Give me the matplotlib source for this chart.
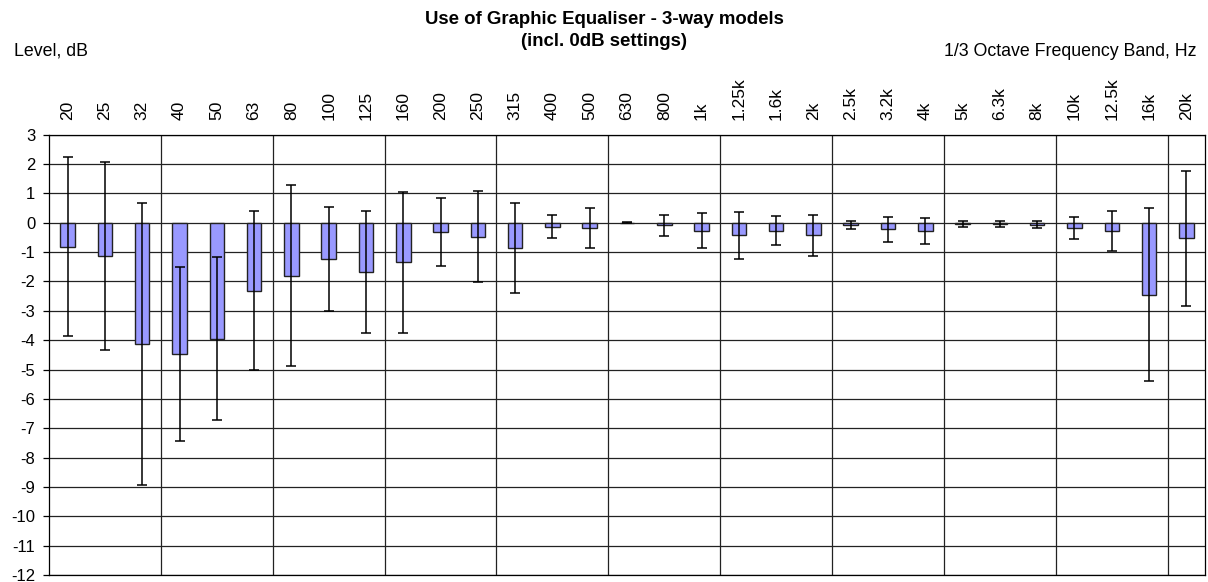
import matplotlib
matplotlib.use("Agg")
import matplotlib.pyplot as plt
import numpy as np

bands = ["20", "25", "32", "40", "50", "63", "80", "100", "125", "160", "200",
         "250", "315", "400", "500", "630", "800", "1k", "1.25k", "1.6k", "2k",
         "2.5k", "3.2k", "4k", "5k", "6.3k", "8k", "10k", "12.5k", "16k", "20k"]
mean_db = [-0.81, -1.14, -4.14, -4.48, -3.95, -2.31, -1.81, -1.24, -1.68, -1.34, -0.32,
           -0.47, -0.85, -0.13, -0.18, 0.0, -0.09, -0.27, -0.42, -0.27, -0.42,
           -0.07, -0.22, -0.27, -0.05, -0.05, -0.06, -0.18, -0.27, -2.45, -0.52]
err_db = [3.05, 3.2, 4.8, 2.97, 2.78, 2.7, 3.08, 1.76, 2.07, 2.4, 1.15,
          1.55, 1.54, 0.4, 0.67, 0.02, 0.35, 0.6, 0.8, 0.5, 0.7,
          0.14, 0.43, 0.44, 0.1, 0.1, 0.13, 0.38, 0.68, 2.94, 2.3]

plt.rcParams['font.family'] = ['Liberation Sans', 'DejaVu Sans']

fig = plt.figure(figsize=(12.08, 5.82), dpi=100)
ax = fig.add_axes([49/1208, 1-575/582, (1205-49)/1208, (575-134.7)/582])

x = np.arange(len(bands))
ax.set_xlim(-0.5, len(bands)-0.5)
ax.set_ylim(-12, 3)

# grid
for yv in range(-12, 4):
    ax.axhline(yv, color='#222222', lw=0.9, zorder=0)
for b in range(3, len(bands), 3):
    ax.axvline(b-0.5, color='#222222', lw=0.9, zorder=0)

ax.bar(x, mean_db, width=0.39, color='#9999FF', edgecolor='#222222', linewidth=1.0, zorder=2)
ax.errorbar(x, mean_db, yerr=err_db, fmt='none', ecolor='black', elinewidth=1.1,
            capsize=3.8, capthick=1.1, zorder=3)

ax.xaxis.tick_top()
ax.set_xticks(x)
ax.set_xticklabels(bands, rotation=90, fontsize=12.5)
ax.tick_params(axis='x', length=0, pad=10.6)
ax.set_yticks(range(-12, 4))
ax.set_yticklabels([str(v) for v in range(-12, 4)], fontsize=12)
ax.tick_params(axis='y', length=4.3, width=0.9, direction='out', pad=5.5)
for s in ax.spines.values():
    s.set_color('black')
    s.set_linewidth(0.9)

fig.text(0.5, 1-11.5/582, "Use of Graphic Equaliser - 3-way models\n(incl. 0dB settings)",
         ha='center', va='top', fontsize=13.4, fontweight='bold', linespacing=1.32)
fig.text(14/1208, 1-51/582, "Level, dB", ha='left', va='center', fontsize=12.8)
fig.text(1197/1208, 1-51/582, "1/3 Octave Frequency Band, Hz", ha='right', va='center', fontsize=12.8)

fig.savefig("out.png", dpi=100)
